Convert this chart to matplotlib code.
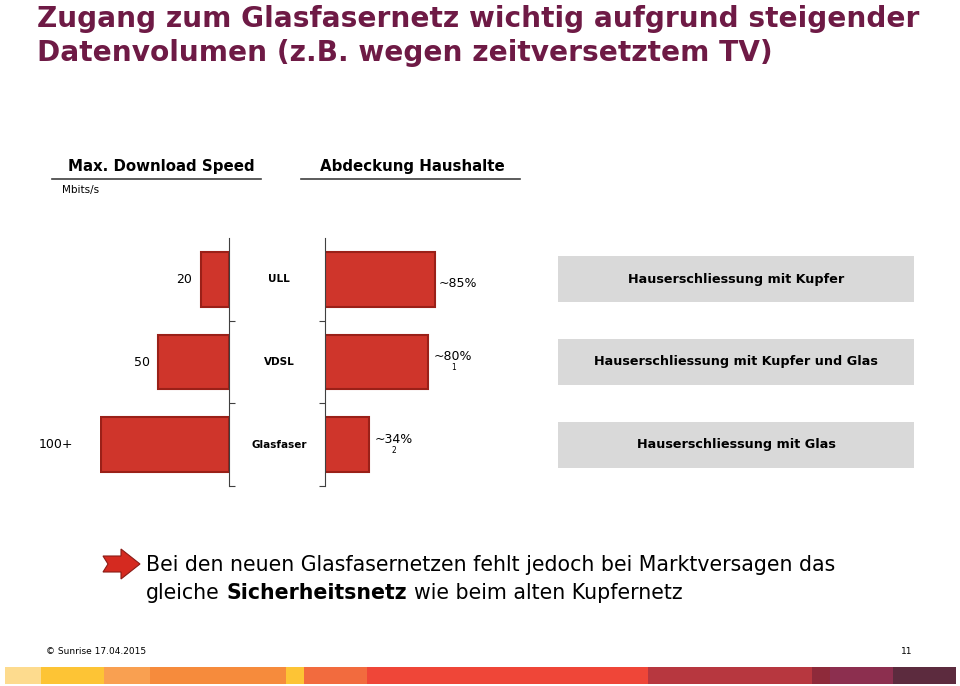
import numpy as np
import matplotlib
matplotlib.use("Agg")
import matplotlib.pyplot as plt
from matplotlib import transforms
from matplotlib.patches import Rectangle, Polygon
from matplotlib.lines import Line2D

# data
categories = ["ULL", "VDSL", "Glasfaser"]
speed_values = [20, 50, 90]          # bar for "100+" is drawn shorter on the slide
speed_labels = ["20", "50", "100+"]
coverage_values = [85, 80, 34]
coverage_labels = ["~85%", "~80%", "~34%"]
coverage_notes = ["", "1", "2"]
box_labels = ["Hauserschliessung mit Kupfer",
              "Hauserschliessung mit Kupfer und Glas",
              "Hauserschliessung mit Glas"]

title_lines = ["Zugang zum Glasfasernetz wichtig aufgrund steigender",
               "Datenvolumen (z.B. wegen zeitversetztem TV)"]

W, H = 960, 686
fig = plt.figure(figsize=(9.6, 6.86), dpi=100)
plt.rcParams['font.family'] = ['DejaVu Sans']

def fx(x):
    return x / W

def fy(y):
    return 1 - y / H

def px_axes(x0, y0, x1, y1):
    return fig.add_axes([fx(x0), fy(y1), (x1 - x0) / W, (y1 - y0) / H])

bar_color = '#CF352B'
bar_edge = '#9A2018'
axis_color = '#404040'
title_color = '#6E1A45'
y = np.arange(len(categories))

# title
fig.text(fx(37), fy(19), title_lines[0], fontsize=20.2, fontweight='bold',
         color=title_color, va='center', ha='left')
fig.text(fx(37), fy(53), title_lines[1], fontsize=20.2, fontweight='bold',
         color=title_color, va='center', ha='left')

# column headers
fig.text(fx(161), fy(167), "Max. Download Speed", fontsize=10.8, fontweight='bold',
         ha='center', va='center')
fig.add_artist(Line2D([fx(52), fx(261)], [fy(179), fy(179)], color=axis_color, lw=1.2))
fig.text(fx(412), fy(167), "Abdeckung Haushalte", fontsize=10.8, fontweight='bold',
         ha='center', va='center')
fig.add_artist(Line2D([fx(301), fx(520)], [fy(179), fy(179)], color=axis_color, lw=1.2))
fig.text(fx(62), fy(190), "Mbits/s", fontsize=7.5, ha='left', va='center')

# left: download speed (bars to the left)
ax1 = px_axes(100, 238, 229, 486)
ax1.barh(y, speed_values, height=0.66, color=bar_color, edgecolor=bar_edge, lw=1.5)
ax1.set_xlim(91, 0)
ax1.set_ylim(2.5, -0.5)
for s in ['top', 'left', 'bottom']:
    ax1.spines[s].set_visible(False)
ax1.spines['right'].set_color(axis_color)
ax1.yaxis.tick_right()
ax1.set_yticks([0.5, 1.5, 2.5])
ax1.set_yticklabels([])
ax1.tick_params(axis='y', direction='out', length=4, color=axis_color)
ax1.set_xticks([])
ax1.patch.set_alpha(0)
label_gap = [-6, -6, -20]
for i, (v, lab) in enumerate(zip(speed_values, speed_labels)):
    ax1.annotate(lab, (v, i), xytext=(label_gap[i], 0), textcoords='offset points',
                 ha='right', va='center', fontsize=9)

# right: household coverage
ax2 = px_axes(325, 238, 455, 486)
ax2.barh(y, coverage_values, height=0.66, color=bar_color, edgecolor=bar_edge, lw=1.5)
ax2.set_xlim(0, 100.5)
ax2.set_ylim(2.5, -0.5)
for s in ['top', 'right', 'bottom']:
    ax2.spines[s].set_visible(False)
ax2.spines['left'].set_color(axis_color)
ax2.set_yticks([0.5, 1.5, 2.5])
ax2.set_yticklabels([])
ax2.tick_params(axis='y', direction='out', length=4, color=axis_color)
ax2.set_xticks([])
ax2.patch.set_alpha(0)
for i, (v, lab, note) in enumerate(zip(coverage_values, coverage_labels, coverage_notes)):
    if note:
        t = ax2.annotate(lab, (v, i), xytext=(4, 4), textcoords='offset points',
                         ha='left', va='center', fontsize=9)
        ax2.annotate(note, xy=(0.5, 0), xycoords=t, xytext=(0, 0),
                     textcoords='offset points', ha='center', va='top', fontsize=5.5)
    else:
        ax2.annotate(lab, (v, i), xytext=(3, -3), textcoords='offset points',
                     ha='left', va='center', fontsize=9)

# category names in the middle
trans = transforms.blended_transform_factory(fig.transFigure, ax2.transData)
for i, cat in enumerate(categories):
    fig.text(fx(279), i, cat, transform=trans, ha='center', va='center',
             fontsize=7.5, fontweight='bold')

# grey boxes
ax3 = px_axes(558, 238, 914, 486)
ax3.barh(y, [1] * len(y), height=0.56, color='#D9D9D9')
ax3.set_xlim(0, 1)
ax3.set_ylim(2.5, -0.5)
ax3.axis('off')
for i, lab in enumerate(box_labels):
    ax3.text(0.5, i, lab, ha='center', va='center', fontsize=9.2, fontweight='bold')

# arrow + conclusion
arrow = Polygon([(fx(103), fy(556)), (fx(121), fy(556)), (fx(121), fy(549)),
                 (fx(140), fy(564)), (fx(121), fy(579)), (fx(121), fy(572)),
                 (fx(103), fy(572)), (fx(108), fy(564))],
                closed=True, facecolor='#D52A20', edgecolor='#8A1C16', lw=0.8,
                transform=fig.transFigure)
fig.add_artist(arrow)
fig.text(fx(146), fy(565), "Bei den neuen Glasfasernetzen fehlt jedoch bei Marktversagen das",
         fontsize=14.8, ha='left', va='center')
t1 = fig.text(fx(146), fy(593), "gleiche", fontsize=14.8, ha='left', va='center')
t2 = ax3.annotate("Sicherheitsnetz", xy=(1, 0), xycoords=t1, xytext=(5, 0),
                  textcoords='offset points', ha='left', va='bottom',
                  fontsize=14.8, fontweight='bold')
ax3.annotate("wie beim alten Kupfernetz", xy=(1, 0), xycoords=t2, xytext=(5, 0),
             textcoords='offset points', ha='left', va='bottom', fontsize=14.8)

# footer
fig.text(fx(46), fy(651), "\u00a9 Sunrise 17.04.2015", fontsize=6.5, ha='left', va='center')
fig.text(fx(912), fy(651), "11", fontsize=6.5, ha='right', va='center')

strip = [(5, '#FDDB8E'), (41, '#FDC435'), (104, '#F9A051'), (150, '#F68B3C'),
         (286, '#FDC435'), (304, '#F26B3E'), (367, '#EF4638'), (648, '#B7373F'),
         (812, '#8E2A3A'), (830, '#8C2F4F'), (893, '#5C2B3E'), (956, None)]
for (x0, c), (x1, _) in zip(strip[:-1], strip[1:]):
    fig.add_artist(Rectangle((fx(x0), fy(684)), (x1 - x0) / W, 17 / H,
                             facecolor=c, edgecolor='none', transform=fig.transFigure))

fig.savefig("out.png", dpi=100)
